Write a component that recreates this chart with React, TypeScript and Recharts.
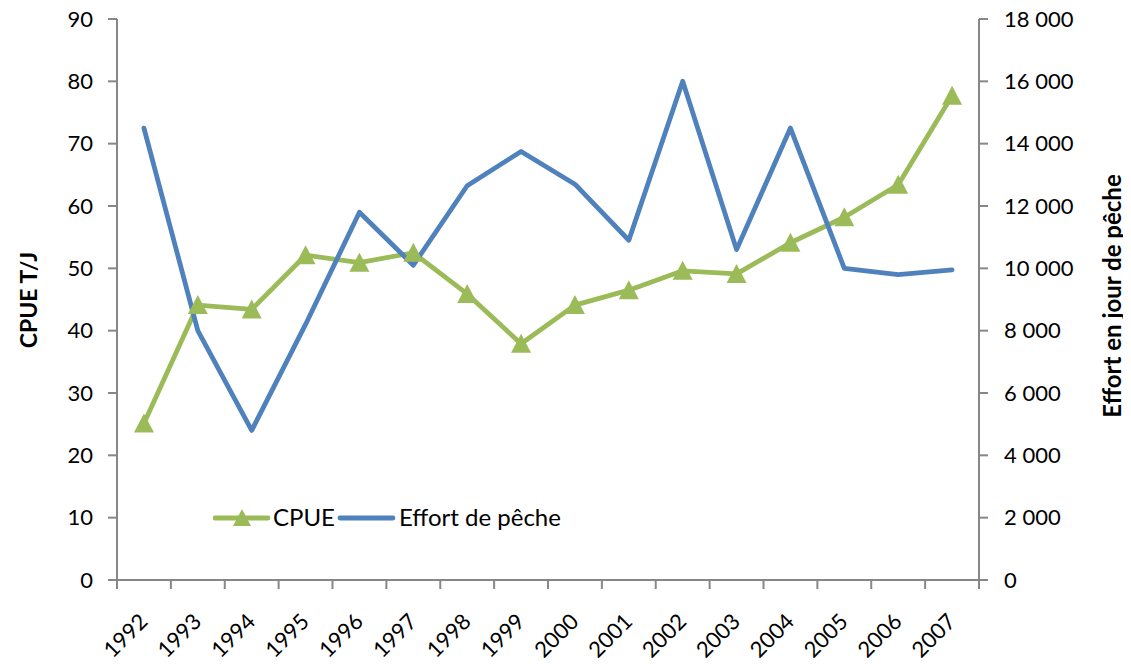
import React from 'react';
import { LineChart, Line, XAxis, YAxis } from 'recharts';

const years = ['1992', '1993', '1994', '1995', '1996', '1997', '1998', '1999', '2000', '2001', '2002', '2003', '2004', '2005', '2006', '2007'];
const cpue = [25.1, 44.1, 43.4, 52.1, 50.9, 52.5, 45.9, 37.9, 44.1, 46.5, 49.6, 49.1, 54.1, 58.2, 63.4, 77.7];
const effort = [14500, 8000, 4800, 8200, 11800, 10100, 12650, 13750, 12700, 10900, 16000, 10600, 14500, 10000, 9800, 9950];
const cpueTicks = [0, 10, 20, 30, 40, 50, 60, 70, 80, 90];
const effortTicks = [0, 2000, 4000, 6000, 8000, 10000, 12000, 14000, 16000, 18000];

const GREEN = '#9BBB59';
const BLUE = '#4F81BD';
const AXIS = '#878787';
const FONT = 'Lato, "Open Sans", sans-serif';

const data = years.map((y, i) => ({ pos: i + 0.5, year: y, cpue: cpue[i], effort: effort[i] }));
const xTicks: number[] = [];
for (let i = 0; i <= years.length * 2; i++) xTicks.push(i / 2);

const fmtThousands = (v: number) => String(v).replace(/\B(?=(\d{3})+(?!\d))/g, ' ');

const XTick = (props: any) => {
  const { x, y, payload } = props;
  const v = payload.value as number;
  if (Number.isInteger(v)) {
    return <line x1={x} y1={y} x2={x} y2={y + 9} stroke={AXIS} strokeWidth={2} />;
  }
  const label = years[Math.floor(v)];
  return (
    <g transform={`translate(${x + 5},${y + 43}) rotate(-45)`}>
      <text x={0} y={0} textAnchor="end" fill="#000" fontSize={22} fontFamily={FONT}>
        {label}
      </text>
    </g>
  );
};

const Triangle = (props: any) => {
  const { cx, cy } = props;
  if (cx == null || cy == null) return null;
  return <polygon points={`${cx},${cy - 10} ${cx - 10},${cy + 9} ${cx + 10},${cy + 9}`} fill={GREEN} />;
};

const LegendBox = () => (
  <svg width={420} height={30} style={{ display: 'block' }}>
    <line x1={2} y1={15} x2={55} y2={15} stroke={GREEN} strokeWidth={4.8} strokeLinecap="round" />
    <polygon points={`29,6 20,23 38,23`} fill={GREEN} />
    <text x={60} y={23} fontSize={24} fontFamily={FONT} fill="#000">CPUE</text>
    <line x1={127} y1={15} x2={180} y2={15} stroke={BLUE} strokeWidth={4.8} strokeLinecap="round" />
    <text x={186} y={23} fontSize={24} fontFamily={FONT} fill="#000">Effort de pêche</text>
  </svg>
);

export default function App() {
  return (
    <div style={{ position: 'relative', width: 1131, height: 664, margin: '-8px 0 0 -8px' }}>
      <LineChart
        width={1131}
        height={664}
        data={data}
        margin={{ top: 19, right: 7, bottom: 24, left: 47 }}
      >
        <XAxis
          dataKey="pos"
          type="number"
          domain={[0, 16]}
          ticks={xTicks}
          interval={0}
          tick={<XTick />}
          tickLine={false}
          tickSize={0}
          tickMargin={0}
          height={60}
          axisLine={{ stroke: AXIS, strokeWidth: 2 }}
        />
        <YAxis
          yAxisId="left"
          domain={[0, 90]}
          ticks={cpueTicks}
          interval={0}
          width={70}
          tickSize={9}
          tickMargin={15}
          axisLine={{ stroke: AXIS, strokeWidth: 2 }}
          tickLine={{ stroke: AXIS, strokeWidth: 2 }}
          tick={{ fill: '#000', fontSize: 22, fontFamily: FONT }}
          label={{
            content: () => {
              const cx = 28;
              const cy = 300;
              return (
                <text x={cx} y={cy} transform={`rotate(-90, ${cx}, ${cy})`} textAnchor="middle" dominantBaseline="central" fontWeight="bold" fontSize={23} fontFamily={FONT} fill="#000">
                  CPUE T/J
                </text>
              );
            },
          }}
        />
        <YAxis
          yAxisId="right"
          orientation="right"
          domain={[0, 18000]}
          ticks={effortTicks}
          interval={0}
          width={145}
          tickSize={9}
          tickMargin={16}
          tickFormatter={fmtThousands}
          axisLine={{ stroke: AXIS, strokeWidth: 2 }}
          tickLine={{ stroke: AXIS, strokeWidth: 2 }}
          tick={{ fill: '#000', fontSize: 22, fontFamily: FONT }}
          label={{
            content: () => {
              const cx = 1111;
              const cy = 296;
              return (
                <text x={cx} y={cy} transform={`rotate(-90, ${cx}, ${cy})`} textAnchor="middle" dominantBaseline="central" fontWeight="bold" fontSize={24} fontFamily={FONT} fill="#000">
                  Effort en jour de pêche
                </text>
              );
            },
          }}
        />
        <Line
          yAxisId="left"
          dataKey="cpue"
          stroke={GREEN}
          strokeWidth={4.8}
          strokeLinejoin="round"
          strokeLinecap="round"
          dot={<Triangle />}
          activeDot={false}
          isAnimationActive={false}
          legendType="none"
        />
        <Line
          yAxisId="right"
          dataKey="effort"
          stroke={BLUE}
          strokeWidth={4.8}
          strokeLinejoin="round"
          strokeLinecap="round"
          dot={false}
          activeDot={false}
          isAnimationActive={false}
          legendType="none"
        />
      </LineChart>
      <div style={{ position: 'absolute', left: 213, top: 503 }}>
        <LegendBox />
      </div>
    </div>
  );
}
